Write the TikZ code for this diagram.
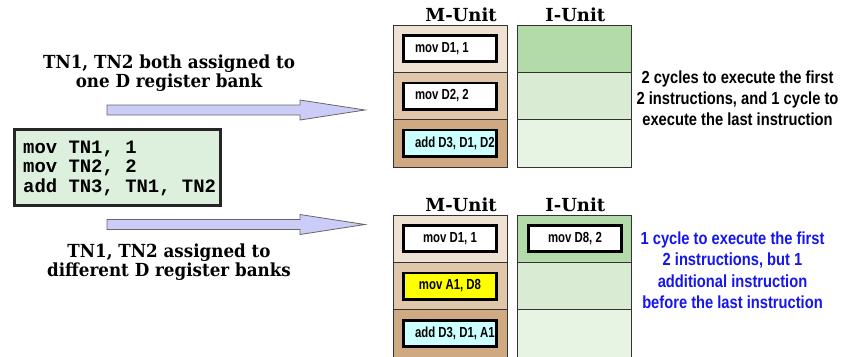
\documentclass[tikz,border=0pt]{standalone}
\usepackage{fontspec}
\setmainfont{DejaVu Serif}
\newfontfamily\headfont[FakeStretch=0.93]{DejaVu Serif}
\newfontfamily\titlefont{DejaVu Serif}
\newfontfamily\notefont[FakeStretch=0.84]{Liberation Sans}
\newfontfamily\boxfont[FakeStretch=0.78]{Liberation Sans}
\newfontfamily\codefont{Liberation Mono}

\definecolor{mrowA}{HTML}{F0E2D2}
\definecolor{mrowB}{HTML}{E0C7A9}
\definecolor{mrowC}{HTML}{CFA981}
\definecolor{irowA}{HTML}{B3DAA9}
\definecolor{irowB}{HTML}{D9EBD3}
\definecolor{irowC}{HTML}{E7F3E3}
\definecolor{codebg}{HTML}{DDF0DD}
\definecolor{arrowbg}{HTML}{CCCCF8}
\definecolor{cyanbox}{HTML}{CCFFFF}
\definecolor{yellowbox}{HTML}{FFFF00}
\definecolor{bluenote}{HTML}{1515EE}

\tikzset{
  slot/.style={draw=black!80, line width=0.8pt, minimum width=114pt,
    minimum height=47.3pt, inner sep=0pt, outer sep=0pt},
  instr/.style={draw=black, line width=2.7pt, fill=white, minimum width=93.3pt,
    minimum height=26.3pt, inner sep=0pt,
    font=\boxfont\bfseries\fontsize{14.6}{16}\selectfont},
  unittitle/.style={anchor=base, inner sep=0pt,
    font=\titlefont\bfseries\fontsize{18}{20}\selectfont},
  heading/.style={align=center, inner sep=0pt,
    font=\headfont\bfseries\fontsize{18}{19}\selectfont},
  note/.style={align=center, inner sep=0pt,
    font=\notefont\bfseries\fontsize{17.5}{21.3}\selectfont},
  codebox/.style={draw=black!85, line width=3pt, fill=codebg,
    minimum width=206pt, minimum height=76pt, inner sep=0pt},
  codetext/.style={align=left, inner sep=0pt, anchor=west,
    font=\codefont\bfseries\fontsize{18.9}{19.7}\selectfont},
  blockarrow/.style={draw=black!60, line width=0.8pt, fill=arrowbg,
    line join=miter},
  pics/fatarrow/.style={code={
    \draw[blockarrow] (0,-5) -- (193,-5) -- (193,-10) -- (258,0)
      -- (193,10) -- (193,5) -- (0,5) -- cycle;}},
}

\begin{document}
\begin{tikzpicture}[x=1pt,y=-1pt]
\useasboundingbox (0,0) rectangle (842,356);

% ---- left: source code and the two allocation choices ----
\node[codebox] (code) at (117.2,167.5) {};
\node[codetext] (codelines) at (23,168.3)
  {mov TN1, 1\\mov TN2, 2\\add TN3, TN1, TN2};

\node[heading] (headA) at (169,72.7)
  {TN1, TN2 both assigned to\\one D register bank};
\node[heading] (headB) at (169,262)
  {TN1, TN2 assigned to\\different D register banks};

\pic (arrA) at (107,110) {fatarrow};
\pic (arrB) at (107,224.5) {fatarrow};

% ---- upper schedule: same register bank ----
\node[unittitle] (mtA) at (461,21.7) {M-Unit};
\node[unittitle] (itA) at (575.3,21.7) {I-Unit};

\node[slot, fill=mrowA] (mA1) at (450,48.65) {};
\node[slot, fill=mrowB] (mA2) at (450,95.95) {};
\node[slot, fill=mrowC] (mA3) at (450,143.25) {};
\node[slot, fill=irowA] (iA1) at (574,48.65) {};
\node[slot, fill=irowB] (iA2) at (574,95.95) {};
\node[slot, fill=irowC] (iA3) at (574,143.25) {};

\node[instr] (opA1) at (450,48.5) {\makebox[70pt][l]{mov D1, 1}};
\node[instr] (opA2) at (450,96) {\makebox[70pt][l]{mov D2, 2}};
\node[instr, fill=cyanbox] (opA3) at (450,143) {\makebox[70pt][l]{add D3, D1, D2}};

\node[note] (noteA) at (737.5,98.3)
  {2 cycles to execute the first\\2 instructions, and 1 cycle to\\execute the last instruction};

% ---- lower schedule: different register banks ----
\node[unittitle] (mtB) at (461,211.7) {M-Unit};
\node[unittitle] (itB) at (575.3,211.7) {I-Unit};

\node[slot, fill=mrowA] (mB1) at (450,238.65) {};
\node[slot, fill=mrowB] (mB2) at (450,285.95) {};
\node[slot, fill=mrowC] (mB3) at (450,333.25) {};
\node[slot, fill=irowA] (iB1) at (574,238.65) {};
\node[slot, fill=irowB] (iB2) at (574,285.95) {};
\node[slot, fill=irowC] (iB3) at (574,333.25) {};

\node[instr] (opB1) at (450,238.5) {mov D1, 1};
\node[instr, fill=yellowbox] (opB2) at (450,286) {mov A1, D8};
\node[instr, fill=cyanbox] (opB3) at (450,333.5) {\makebox[70pt][l]{add D3, D1, A1}};
\node[instr] (opB4) at (575,238.5) {mov D8, 2};

\node[note, text=bluenote] (noteB) at (732.5,270.3)
  {1 cycle to execute the first\\2 instructions, but 1\\additional instruction\\before the last instruction};
\end{tikzpicture}
\end{document}
